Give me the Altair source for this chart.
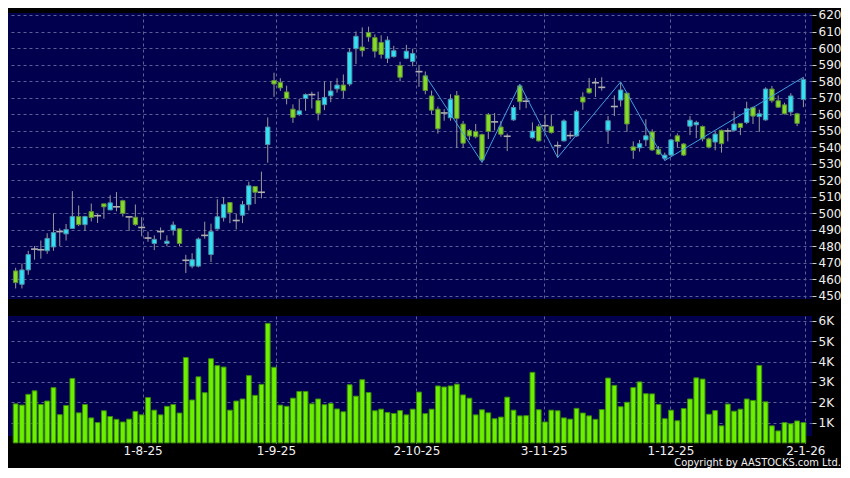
import altair as alt
import pandas as pd
import numpy as np

# ---- data ----
opens = [465.1, 457.0, 465.7, 478.3, 477.9, 477.3, 479.6, 488.9, 487.5, 490.8,
         498.0, 493.1, 501.0, 498.5, 505.7, 502.0, 503.9, 507.6, 497.8, 497.6,
         491.4, 485.0, 481.7, 488.9, 481.7, 489.8, 490.6, 471.5, 468.0, 468.0,
         486.6, 475.0, 490.5, 497.3, 506.5, 495.6, 498.8, 505.2, 516.2, 512.7,
         541.6, 580.3, 579.2, 573.4, 563.0, 559.7, 569.5, 571.8, 568.2, 565.7,
         571.1, 575.3, 577.6, 578.2, 599.6, 600.6, 609.4, 606.3, 603.4, 593.8,
         594.8, 589.4, 593.8, 591.8, 585.7, 583.2, 571.0, 563.0, 560.7, 557.8,
         571.3, 554.0, 550.1, 549.5, 547.6, 559.7, 555.3, 552.2, 546.6, 556.5,
         577.1, 567.8, 545.7, 552.6, 553.0, 552.6, 540.9, 543.8, 547.0, 546.8,
         570.3, 575.5, 579.0, 576.2, 550.2, 564.6, 568.5, 572.7, 540.2, 539.6,
         544.4, 549.2, 538.7, 533.3, 535.2, 546.9, 541.9, 552.7, 553.5, 552.5,
         545.0, 543.1, 550.2, 549.8, 550.2, 554.4, 555.0, 564.0, 558.5, 556.5,
         575.2, 568.1, 565.6, 561.3, 560.2, 568.8]
highs = [467.0, 469.6, 477.3, 480.2, 483.5, 487.9, 499.9, 490.8, 493.5, 513.4,
         504.7, 498.5, 505.9, 499.5, 505.7, 510.9, 512.8, 508.2, 497.8, 505.3,
         497.6, 488.9, 486.6, 491.4, 486.6, 495.0, 490.6, 474.8, 475.8, 485.3,
         494.9, 493.7, 508.5, 509.8, 506.5, 499.8, 507.5, 519.1, 516.2, 525.2,
         558.0, 585.1, 581.7, 577.2, 565.9, 569.2, 572.5, 573.6, 573.6, 579.8,
         579.8, 581.7, 584.0, 600.0, 610.0, 612.5, 612.9, 608.3, 607.7, 607.1,
         601.3, 591.7, 601.9, 599.6, 589.8, 585.8, 574.2, 564.6, 563.0, 572.0,
         574.0, 555.9, 551.0, 554.0, 548.2, 560.7, 560.7, 555.9, 548.2, 565.5,
         578.0, 570.7, 555.0, 554.0, 559.7, 559.7, 543.4, 556.9, 549.0, 562.6,
         573.2, 581.9, 581.9, 582.3, 558.8, 571.3, 579.0, 572.7, 543.5, 544.4,
         556.9, 550.8, 540.6, 536.7, 545.0, 548.3, 542.5, 558.8, 556.0, 553.1,
         545.8, 549.2, 550.6, 551.5, 561.7, 554.4, 567.5, 564.6, 562.7, 576.2,
         577.1, 571.3, 566.9, 572.7, 560.8, 582.3]
lows = [454.5, 454.5, 462.8, 471.9, 472.5, 475.4, 477.3, 480.2, 483.5, 490.5,
        492.2, 489.3, 495.0, 494.1, 496.6, 502.0, 501.2, 498.0, 489.3, 492.4,
        486.0, 482.7, 477.7, 484.0, 480.0, 486.6, 480.0, 463.8, 466.7, 467.3,
        484.6, 470.5, 490.2, 495.0, 494.0, 490.2, 494.0, 501.7, 505.6, 509.0,
        530.6, 570.5, 574.0, 565.9, 554.7, 559.0, 562.0, 563.4, 556.2, 562.4,
        567.2, 573.0, 569.7, 576.9, 590.3, 594.8, 603.8, 594.2, 593.6, 590.9,
        594.2, 579.8, 593.2, 589.0, 576.5, 572.0, 559.8, 548.2, 556.0, 556.0,
        539.5, 539.5, 544.3, 545.3, 530.8, 544.9, 550.1, 546.3, 537.6, 555.9,
        562.6, 563.6, 545.0, 543.4, 549.1, 548.2, 533.7, 543.4, 545.0, 546.3,
        562.6, 572.3, 570.4, 574.2, 541.9, 558.8, 564.6, 549.2, 532.9, 537.3,
        540.6, 537.7, 535.4, 531.9, 534.2, 539.6, 534.6, 547.3, 545.4, 543.5,
        539.2, 538.1, 536.7, 543.5, 549.6, 547.3, 554.0, 554.0, 549.2, 556.0,
        566.9, 563.7, 559.8, 558.8, 552.7, 564.2]
closes = [458.0, 465.7, 475.0, 478.3, 477.9, 484.8, 488.3, 488.9, 490.2, 498.1,
          493.1, 498.0, 497.4, 498.5, 503.9, 506.3, 503.9, 499.9, 497.8, 493.1,
          491.4, 485.0, 484.2, 488.9, 483.1, 492.9, 481.7, 471.5, 471.9, 484.4,
          486.6, 488.9, 497.9, 505.4, 500.4, 495.6, 505.2, 516.6, 512.7, 512.7,
          552.2, 578.2, 575.9, 569.5, 558.0, 562.0, 571.8, 571.8, 560.5, 570.1,
          574.0, 577.6, 574.2, 597.5, 607.1, 598.4, 606.7, 598.1, 596.1, 604.8,
          598.4, 582.3, 598.1, 596.7, 585.7, 574.3, 562.4, 551.1, 560.7, 569.0,
          557.4, 542.4, 546.8, 546.3, 532.2, 549.5, 555.3, 547.8, 546.6, 564.0,
          567.5, 567.8, 549.7, 543.8, 553.0, 548.8, 540.9, 555.9, 547.0, 561.7,
          567.3, 572.9, 579.0, 576.2, 556.0, 564.6, 574.6, 554.0, 538.1, 542.1,
          546.9, 538.3, 535.8, 535.2, 544.4, 543.5, 535.2, 556.3, 555.0, 545.0,
          540.0, 547.9, 542.1, 549.8, 554.0, 551.9, 563.3, 558.8, 560.2, 575.2,
          568.1, 564.2, 560.2, 571.0, 554.4, 581.0]
volumes_k = [1.92, 1.86, 2.39, 2.56, 1.89, 2.06, 2.72, 1.39, 1.84, 3.17,
             1.48, 1.89, 1.23, 1.00, 1.58, 1.30, 1.16, 1.03, 1.17, 1.55,
             1.38, 2.23, 1.61, 1.38, 1.80, 1.89, 1.47, 4.20, 2.11, 3.25,
             2.47, 4.14, 3.80, 3.73, 1.61, 2.06, 2.16, 3.31, 2.34, 2.88,
             5.88, 3.72, 1.86, 1.80, 2.20, 2.53, 2.53, 1.92, 2.16, 1.88,
             1.94, 1.67, 1.53, 2.86, 2.30, 3.11, 2.48, 1.58, 1.66, 1.50,
             1.45, 1.59, 1.38, 1.66, 2.50, 1.44, 1.66, 2.80, 2.75, 2.80,
             2.89, 2.36, 2.20, 1.38, 1.63, 1.48, 1.19, 1.27, 2.25, 1.61,
             1.33, 1.34, 3.47, 1.63, 1.03, 1.61, 1.58, 1.23, 1.17, 1.70,
             1.47, 1.33, 1.16, 1.64, 3.19, 2.83, 1.78, 2.00, 2.72, 3.00,
             2.42, 2.41, 1.89, 1.19, 1.61, 1.09, 1.69, 2.16, 3.20, 3.14,
             1.41, 1.59, 0.84, 1.91, 1.56, 1.66, 2.16, 2.09, 3.81, 2.02,
             0.84, 0.59, 1.00, 0.94, 1.08, 1.00]
zz_idx = [65, 74, 80, 86, 96, 103, 125]
zz_price = [583.5, 530.8, 578.0, 533.7, 579.5, 531.9, 582.3]
tick_pos = [20.15, 41.3, 63.6, 83.8, 103.9, 125.3]
tick_labels = ["1-8-25", "1-9-25", "2-10-25", "3-11-25", "1-12-25", "2-1-26"]
price_ticks = list(range(450, 621, 10))
vol_ticks = [1, 2, 3, 4, 5, 6]
copyright_text = "Copyright by AASTOCKS.com Ltd."

# ---- style ----
NAVY = "#00004e"
GRID = "#5a6194"
WICK = "#9a9a9a"
FLAT = "#b0b0b0"
UP_FILL, UP_STROKE = "#30e2f2", "#4f8eaa"
DN_FILL, DN_STROKE = "#84dc28", "#5f8a3a"
VOL_FILL, VOL_STROKE = "#6cf000", "#3a8a10"
ZZ = "#3f9fe0"
FONT = "DejaVu Sans"

W = 804
H_PRICE = 286
H_VOL = 120

o = np.array(opens); c = np.array(closes)
df = pd.DataFrame({
    "i": np.arange(len(opens)),
    "open": opens, "high": highs, "low": lows, "close": closes,
    "vol": volumes_k,
    "dir": np.where(c > o, "up", np.where(c < o, "down", "flat")),
})
zz = pd.DataFrame({"i": zz_idx, "p": zz_price})

xscale = alt.Scale(domain=[-0.42, 125.57], nice=False, zero=False)
label_expr = " : ".join(
    f"datum.value == {p} ? '{l}'" for p, l in zip(tick_pos, tick_labels)
) + " : ''"

x_price = alt.X("i:Q", scale=xscale, title=None,
                axis=alt.Axis(values=tick_pos, labels=False, ticks=False,
                              domain=False, grid=True, gridColor=GRID,
                              gridDash=[3, 3], gridWidth=1, tickCount=20))
yscale = alt.Scale(domain=[448.1, 621.2], nice=False, zero=False)
y_axis = alt.Axis(orient="right", values=price_ticks, tickCount=40, grid=True,
                  gridColor=GRID, gridDash=[3, 3], gridWidth=1,
                  domain=False, tickColor="#cfcfcf", tickSize=4,
                  labelColor="#f0f0f0", labelFontSize=12, labelFont=FONT,
                  labelPadding=2, labelOverlap=False)

base = alt.Chart(df)
wicks = base.mark_rule(color=WICK, strokeWidth=1).encode(
    x=x_price,
    y=alt.Y("low:Q", scale=yscale, title=None, axis=y_axis),
    y2="high:Q",
)
up = base.transform_filter("datum.dir == 'up'").mark_bar(
    size=4.4, fill=UP_FILL, stroke=UP_STROKE, strokeWidth=1
).encode(x=alt.X("i:Q", scale=xscale), y=alt.Y("open:Q", scale=yscale), y2="close:Q")
down = base.transform_filter("datum.dir == 'down'").mark_bar(
    size=4.4, fill=DN_FILL, stroke=DN_STROKE, strokeWidth=1
).encode(x=alt.X("i:Q", scale=xscale), y=alt.Y("open:Q", scale=yscale), y2="close:Q")
flat = base.transform_filter("datum.dir == 'flat'").mark_tick(
    orient="horizontal", size=7, thickness=1.6, color=FLAT, opacity=1
).encode(x=alt.X("i:Q", scale=xscale), y=alt.Y("close:Q", scale=yscale))
zigzag = alt.Chart(zz).mark_line(color=ZZ, strokeWidth=1).encode(
    x=alt.X("i:Q", scale=xscale), y=alt.Y("p:Q", scale=yscale)
)
price = alt.layer(wicks, up, down, flat, zigzag).properties(width=W, height=H_PRICE)

vol_axis_x = alt.Axis(values=tick_pos, labelExpr=label_expr, grid=True,
                      gridColor=GRID, gridDash=[3, 3], gridWidth=1, tickCount=20,
                      domain=False, ticks=True, tickColor="#cfcfcf", tickSize=4,
                      offset=3, labelColor="#f0f0f0", labelFontSize=12,
                      labelFont=FONT, labelPadding=2, labelFlush=False,
                      labelOverlap=False)
vol_axis_y = alt.Axis(orient="right", values=vol_ticks, tickCount=20,
                      labelExpr="datum.value + 'K'", grid=True,
                      gridColor=GRID, gridDash=[3, 3], gridWidth=1,
                      domain=False, tickColor="#cfcfcf", tickSize=4,
                      labelColor="#f0f0f0", labelFontSize=12, labelFont=FONT,
                      labelPadding=2, labelOverlap=False)
volume = base.mark_bar(size=4.8, fill=VOL_FILL, stroke=VOL_STROKE, strokeWidth=1).encode(
    x=alt.X("i:Q", scale=xscale, title=None, axis=vol_axis_x),
    y=alt.Y("vol:Q", scale=alt.Scale(domain=[0.34, 6.24], nice=False, zero=False),
            title=None, axis=vol_axis_y),
    y2=alt.value(H_VOL),
).properties(width=W, height=H_VOL)

chart = alt.vconcat(price, volume, spacing=12).properties(
    background="black",
    padding=0,
    title=alt.TitleParams(copyright_text, orient="bottom", anchor="end",
                          color="#f0f0f0", fontSize=11, fontWeight="normal",
                          font="DejaVu Sans Condensed, Liberation Sans Narrow, DejaVu Sans",
                          offset=1),
).configure_view(fill=NAVY, stroke=None)

chart.save("out.html", embed_options={"renderer": "svg", "actions": False})
